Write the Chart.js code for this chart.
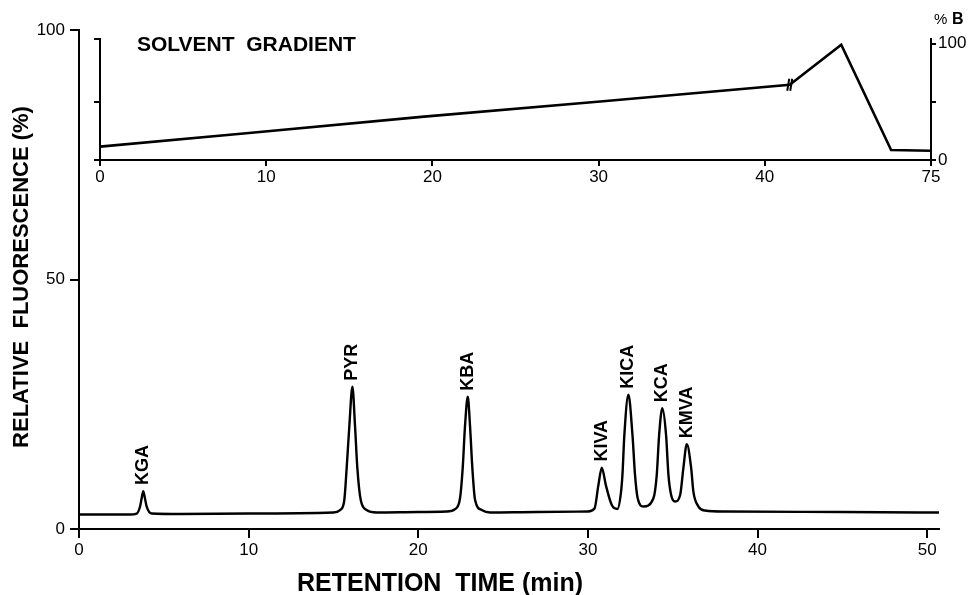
<!DOCTYPE html>
<html>
<head>
<meta charset="utf-8">
<script src="https://cdn.jsdelivr.net/npm/chart.js@4.4.1/dist/chart.umd.min.js"></script>
<style>
  html, body { margin: 0; padding: 0; background: #fff; }
  #wrap { position: relative; width: 968px; height: 595px; }
  #wrap canvas { position: absolute; left: 0; top: 0; }
  #inset { pointer-events: none; }
</style>
</head>
<body>
<div id="wrap">
  <canvas id="main" width="968" height="595"></canvas>
  <canvas id="inset" width="968" height="200"></canvas>
</div>
<script>
// chromatogram trace (retention time in min, relative fluorescence in %)
const retTime = [
  0, 3.0,
  3.4, 3.6, 3.69, 3.79, 3.89, 3.99, 4.29,              // KGA
  6, 10, 15.0,
  15.39, 15.63, 15.78, 15.94, 16.12, 16.27, 16.41, 16.61, 16.96, 17.55,   // PYR
  20, 21.68,
  22.17, 22.46, 22.62, 22.76, 22.92, 23.05, 23.19, 23.35, 23.74, 24.23,   // KBA
  27, 30.0,
  30.39, 30.62, 30.82, 31.06, 31.41, 31.74,            // KIVA
  31.95, 32.04, 32.15, 32.39, 32.63, 32.78, 32.94, 33.27,   // KICA
  33.86, 34.06, 34.2, 34.39, 34.61, 34.75, 34.91, 35.14,    // KCA
  35.44, 35.63, 35.83, 36.09, 36.22, 36.52, 36.91,     // KMVA
  38.1, 45, 50.7
]
const fluor = [
  2.9, 2.9,
  3.1, 4.5, 6.1, 7.6, 6.1, 4.5, 3.1,
  3.0, 3.1, 3.3,
  3.8, 5.5, 12.2, 20.8, 28.5, 20.8, 12.2, 5.8, 3.8, 3.3,
  3.4, 3.5,
  4.0, 6.1, 12.2, 20.8, 26.5, 20.8, 12.2, 5.8, 3.8, 3.3,
  3.4, 3.5,
  4.1, 8.8, 12.3, 8.8, 4.8, 4.0,
  7.3, 11.0, 18.8, 26.9, 18.8, 10.8, 6.1, 4.5,
  6.1, 10.8, 18.8, 24.2, 18.8, 10.8, 6.8, 5.5,
  6.8, 12.2, 17.0, 12.2, 7.5, 4.5, 3.7,
  3.5, 3.4, 3.3
]

const peakNames = ['KGA', 'PYR', 'KBA', 'KIVA', 'KICA', 'KCA', 'KMVA']
const peakTimes = [3.79, 16.12, 22.92, 30.82, 32.39, 34.39, 35.83]
const peakTops = [7.6, 28.5, 26.5, 12.3, 26.9, 24.2, 17.0]

const timeTicks = [0, 10, 20, 30, 40, 50]
const fluorTicks = [0, 50, 100]

// solvent gradient inset: position along the drawn time axis (axis is broken after 40, last tick is 75 min)
const gradPos = [0, 8.8, 19.5, 30.1, 41.5, 44.6, 47.6, 50]
const gradB = [11.5, 23, 37.3, 50.3, 64.7, 99.1, 8.6, 8.0]
const gradTickPos = [0, 10, 20, 30, 40, 50]
const gradTickLabels = ['0', '10', '20', '30', '40', '75']
const gradBTicks = [0, 50, 100]
const gradBreakIndex = 4

const FONT = "'Liberation Sans', Arial, Helvetica, sans-serif"
Chart.defaults.font.family = FONT
Chart.defaults.color = '#000'
Chart.defaults.animation = false

const axisLine = { display: true, color: '#000', width: 2 }
const tickMarks = len => ({ drawOnChartArea: false, drawTicks: true, tickLength: len, color: '#000', lineWidth: 2 })

const mainLabels = {
  id: 'mainLabels',
  afterDraw(chart) {
    const { ctx, scales } = chart
    ctx.save()
    ctx.fillStyle = '#000'

    // peak names, written upwards above each apex
    ctx.font = 'bold 18px ' + FONT
    ctx.textAlign = 'left'
    ctx.textBaseline = 'middle'
    peakNames.forEach((name, i) => {
      const x = scales.x.getPixelForValue(peakTimes[i])
      const y = scales.y.getPixelForValue(peakTops[i]) - 6
      ctx.save()
      ctx.translate(x, y)
      ctx.rotate(-Math.PI / 2)
      ctx.fillText(name, 0, 0)
      ctx.restore()
    })

    // axis titles
    ctx.textAlign = 'center'
    ctx.font = 'bold 25px ' + FONT
    ctx.fillText('RETENTION  TIME (min)', 440, 584)

    ctx.translate(22, 277)
    ctx.rotate(-Math.PI / 2)
    ctx.font = 'bold 22px ' + FONT
    ctx.fillText('RELATIVE  FLUORESCENCE (%)', 0, 0)
    ctx.restore()
  }
}

new Chart(document.getElementById('main'), {
  type: 'line',
  data: {
    datasets: [{
      data: retTime.map((t, i) => ({ x: t, y: fluor[i] })),
      borderColor: '#000',
      borderWidth: 2.4,
      pointRadius: 0,
      cubicInterpolationMode: 'monotone',
      fill: false
    }]
  },
  options: {
    responsive: false,
    layout: { padding: { top: 30, right: 29, left: 0, bottom: 0 } },
    plugins: { legend: { display: false }, tooltip: { enabled: false } },
    scales: {
      x: {
        type: 'linear', min: 0, max: 50.7,
        afterBuildTicks: s => { s.ticks = timeTicks.map(v => ({ value: v })) },
        afterFit: s => { s.height = 66 },
        ticks: { font: { size: 17 }, padding: 2, maxRotation: 0, autoSkip: false },
        grid: tickMarks(9),
        border: axisLine
      },
      y: {
        type: 'linear', min: 0, max: 100,
        afterBuildTicks: s => { s.ticks = fluorTicks.map(v => ({ value: v })) },
        afterFit: s => { s.width = 79 },
        ticks: { font: { size: 17 }, padding: 5 },
        grid: tickMarks(9),
        border: axisLine
      }
    }
  },
  plugins: [mainLabels]
})

const insetLabels = {
  id: 'insetLabels',
  afterDraw(chart) {
    const { ctx, chartArea, scales } = chart
    ctx.save()
    ctx.fillStyle = '#000'
    ctx.strokeStyle = '#000'

    ctx.font = 'bold 21px ' + FONT
    ctx.textAlign = 'left'
    ctx.textBaseline = 'middle'
    ctx.fillText('SOLVENT  GRADIENT', chartArea.left + 37, 45)

    // % B above the right axis
    ctx.textBaseline = 'alphabetic'
    ctx.font = '15px ' + FONT
    ctx.fillText('%', chartArea.right + 3, 24)
    ctx.font = 'bold 16px ' + FONT
    ctx.fillText('B', chartArea.right + 21, 24)

    // axis-break mark on the gradient line
    const bx = scales.x.getPixelForValue(gradPos[gradBreakIndex])
    const by = scales.yl.getPixelForValue(gradB[gradBreakIndex])
    ctx.lineWidth = 2
    for (const dx of [-1.5, 1.5]) {
      ctx.beginPath()
      ctx.moveTo(bx + dx + 1, by - 6)
      ctx.lineTo(bx + dx - 1, by + 6)
      ctx.stroke()
    }
    ctx.restore()
  }
}

new Chart(document.getElementById('inset'), {
  type: 'line',
  data: {
    datasets: [{
      data: gradPos.map((p, i) => ({ x: p, y: gradB[i] })),
      yAxisID: 'yl',
      borderColor: '#000',
      borderWidth: 2.6,
      pointRadius: 0,
      tension: 0,
      fill: false
    }]
  },
  options: {
    responsive: false,
    layout: { padding: { top: 39, right: 0, left: 80, bottom: 0 } },
    plugins: { legend: { display: false }, tooltip: { enabled: false } },
    scales: {
      x: {
        type: 'linear', min: 0, max: 50,
        afterBuildTicks: s => { s.ticks = gradTickPos.map(v => ({ value: v })) },
        afterFit: s => { s.height = 40 },
        ticks: { callback: (v, i) => gradTickLabels[i], font: { size: 17 }, padding: 1, maxRotation: 0, autoSkip: false },
        grid: tickMarks(6),
        border: axisLine
      },
      yl: {
        type: 'linear', position: 'left', min: 0, max: 104,
        afterBuildTicks: s => { s.ticks = [0, 50, 104].map(v => ({ value: v })) },
        afterFit: s => { s.width = 20 },
        ticks: { display: false },
        grid: tickMarks(6),
        border: axisLine
      },
      yr: {
        type: 'linear', position: 'right', min: 0, max: 104,
        afterBuildTicks: s => { s.ticks = gradBTicks.map(v => ({ value: v })) },
        afterFit: s => { s.width = 37 },
        ticks: { callback: v => (v === 50 ? '' : String(v)), font: { size: 17 }, padding: 2 },
        grid: tickMarks(5),
        border: axisLine
      }
    }
  },
  plugins: [insetLabels]
})
</script>
</body>
</html>
